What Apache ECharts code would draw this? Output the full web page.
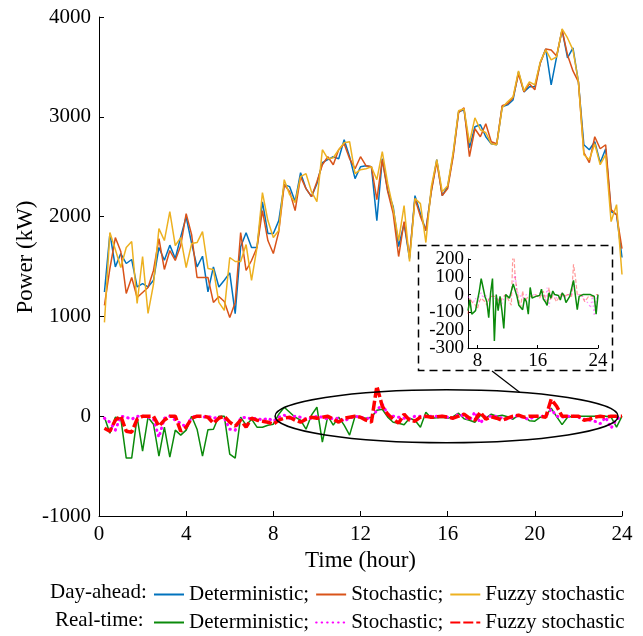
<!DOCTYPE html>
<html>
<head>
<meta charset="utf-8">
<script src="https://cdn.jsdelivr.net/npm/echarts@6/dist/echarts.min.js"></script>
<style>
html,body{margin:0;padding:0;background:#fff;}
#c{width:643px;height:636px;}
</style>
</head>
<body>
<div id="c"></div>
<script>
// ---- data ----
const hours = [0.25,0.5,0.75,1,1.25,1.5,1.75,2,2.25,2.5,2.75,3,3.25,3.5,3.75,4,4.25,4.5,4.75,5,5.25,5.5,5.75,6,6.25,6.5,6.75,7,7.25,7.5,7.75,8,
8.25,8.5,8.75,9,9.25,9.5,9.75,10,10.25,10.5,10.75,11,11.25,11.5,11.75,12,12.25,12.5,12.75,13,13.25,13.5,13.75,14,14.25,14.5,14.75,15,15.25,15.5,15.75,16,
16.25,16.5,16.75,17,17.25,17.5,17.75,18,18.25,18.5,18.75,19,19.25,19.5,19.75,20,20.25,20.5,20.75,21,21.25,21.5,21.75,22,22.25,22.5,22.75,23,23.25,23.5,23.75,24];

const daDeterministic = [1245,1831,1496,1630,1530,1570,1295,1329,1295,1362,1691,1563,1714,1580,1797,1998,1731,1496,1603,1245,1496,1295,1362,1436,1028,1697,1838,1691,1691,2148,1831,1831,
1960,2320,2300,2150,2440,2280,2200,2330,2540,2570,2600,2580,2770,2600,2380,2500,2510,2500,1960,2580,2260,2100,1700,1930,1580,2210,2030,1860,2260,2570,2210,2300,
2620,3050,3070,2690,2900,2920,2800,2730,2720,3100,3120,3170,3450,3250,3300,3300,3540,3680,3320,3600,3870,3590,3690,3350,2720,2670,2750,2540,2680,2050,2020,1590];

const daStochastic = [1110,1480,1790,1650,1230,1390,1190,1240,1290,1460,1780,1470,1660,1560,1710,2030,1820,1390,1390,1390,1140,1200,1150,990,1140,1840,1460,1560,1690,2060,1760,1630,
1850,2320,2250,2060,2400,2280,2200,2350,2520,2600,2520,2670,2730,2580,2480,2600,2510,2500,2170,2570,2250,2030,1600,1950,1600,2180,2000,1860,2250,2550,2210,2280,
2600,3040,3090,2600,2880,2800,2930,2750,2730,3110,3130,3190,3430,3250,3330,3270,3540,3680,3670,3610,3870,3620,3460,3350,2640,2540,2800,2680,2720,2070,2020,1680];

const daFuzzy = [940,1840,1670,1490,1690,1750,1130,1600,1030,1320,1880,1760,2050,1710,1790,1490,1730,1740,1850,1480,1470,1140,1060,1590,1550,1550,1720,1360,1690,2240,1960,1790,
1860,2370,2220,2140,2400,2430,2250,2150,2670,2580,2590,2670,2740,2750,2430,2470,2480,2500,2370,2650,2330,2080,1760,2110,1550,2180,2130,1740,2300,2570,2250,2310,
2640,3060,3080,2740,2990,2870,2840,2730,2720,3090,3150,3200,3460,3260,3350,3320,3550,3670,3570,3600,3880,3790,3670,3350,2620,2570,2730,2520,2620,1950,2120,1420];

const rtDeterministic = [-10,-170,-10,-20,-420,-420,-10,-350,-10,-80,-400,-110,-410,-140,-190,-140,0,-130,-400,-135,-130,0,0,-380,-420,-10,-90,-30,-110,-110,-90,-80,
20,90,40,-10,-40,-130,10,90,-260,0,-90,-10,-90,-190,0,-10,-20,-10,60,70,-10,-60,-70,-85,-20,-40,-110,40,-20,-15,-10,-20,
-5,30,-25,-40,-60,10,-20,20,0,10,-5,-30,10,-5,-45,-50,-10,0,80,-5,-85,-10,0,0,0,0,0,0,0,-10,-110,0];

const rtStochastic = [-20,-60,-140,0,-10,-30,0,0,-10,-30,-210,-20,0,-40,-70,-110,-10,0,-10,0,-20,-10,-20,-130,-140,-20,-10,-30,-20,-40,-20,-50,
-10,10,-20,0,-10,-30,-20,0,-10,-30,-20,-20,-50,-20,0,-10,-20,-20,60,120,20,0,-10,-20,-30,0,0,0,0,0,0,-10,
-20,20,0,-40,40,-70,0,0,0,-20,-30,-10,10,-20,-30,0,0,0,70,0,-10,0,0,-10,-30,-40,-50,-75,-10,-120,-30,0];

const rtFuzzy = [-120,-150,-40,0,-150,-160,-30,0,0,0,-100,-40,0,0,-150,-110,-20,0,0,-10,-70,-20,0,-60,-100,-40,-110,-20,-40,-50,-60,-80,
-40,-20,-10,-40,-60,-30,-10,-20,-10,0,-30,-60,-20,-10,0,-10,-40,-60,300,100,20,-30,-70,20,-40,-50,-10,0,-10,-5,0,-10,
-20,0,20,-20,-40,40,-30,-5,-20,-40,-20,0,10,-10,0,0,0,-10,170,100,0,0,0,0,-40,-30,-10,0,-10,0,0,0];

const mainXTicks = {min:0, max:24, interval:4};
const mainYTicks = {min:-1000, max:4000, interval:1000};
const insetXLabels = [8,16,24];
const insetXRange = {min:6.75, max:24};
const insetYLabels = [-300,-200,-100,0,100,200];
const insetYTicks = {min:-300, max:200, interval:100};

const legendNames = {
  daDet:'Deterministic;', daSto:'Stochastic;', daFuz:'Fuzzy stochastic',
  rtDet:'Deterministic;', rtSto:'Stochastic;', rtFuz:'Fuzzy stochastic'
};

// ---- build ----
const FONT = '"Liberation Serif","Times New Roman",serif';
const pairs = arr => hours.map((h,i)=>[h, arr[i]]);
const insetPairs = arr => hours.map((h,i)=>[h, arr[i]]).filter(p=>p[0] >= insetXRange.min);

const C = {blue:'#0072BD', orange:'#D95319', yellow:'#EDB120', green:'#0B8A0B', magenta:'#FF00FF', red:'#FF0000'};

function axisCommon(fs, margin){
  return {
    axisLine:{show:true, onZero:false, lineStyle:{color:'#000', width:1}},
    axisTick:{show:true, inside:true, length:5, lineStyle:{color:'#000'}},
    axisLabel:{color:'#000', fontFamily:FONT, fontSize:fs, margin:margin, formatter:v=>String(v),
      showMinLabel:true, showMaxLabel:true, hideOverlap:false},
    splitLine:{show:false}
  };
}

const chart = echarts.init(document.getElementById('c'), null, {renderer:'canvas'});

const mk = (name, arr, color, width, type, extra) => ({
  name, type:'line', data:pairs(arr), symbol:'none', showSymbol:false,
  lineStyle:Object.assign({color, width, type}, (extra&&extra.ls)||{}), itemStyle:{color}, animation:false, z:2
});

const baseGraphics = [
  {type:'text', left:50, top:582, style:{text:'Day-ahead:', fill:'#000', font:'21px '+FONT}},
  {type:'text', left:55, top:610, style:{text:'Real-time:', fill:'#000', font:'21px '+FONT}},
  {type:'text', x:26, y:257, rotation:Math.PI/2,
    style:{text:'Power (kW)', fill:'#000', font:'23px '+FONT, align:'center', verticalAlign:'middle'}},
  {type:'rect', shape:{x:418.5, y:245.5, width:194, height:125}, z:1,
    style:{fill:'rgba(255,255,255,0)', stroke:'#000', lineWidth:1.5, lineDash:[8,5]}}
];

const legendCommon = {padding:0, itemWidth:30, itemHeight:14, itemGap:6, selectedMode:false,
  itemStyle:{opacity:0, borderWidth:0},
  formatter:n=>legendNames[n], textStyle:{color:'#000', fontFamily:FONT, fontSize:21}};

const insetX = axisCommon(19, 4);
Object.assign(insetX, {type:'value', gridIndex:1, min:insetXRange.min, max:insetXRange.max});
insetX.axisTick = {show:true, inside:true, length:3, customValues:insetXLabels, lineStyle:{color:'#000'}};
insetX.axisLabel = Object.assign({}, insetX.axisLabel, {customValues:insetXLabels});

const insetY = axisCommon(19, 4);
Object.assign(insetY, {type:'value', gridIndex:1, min:insetYTicks.min, max:insetYTicks.max, interval:insetYTicks.interval});
insetY.axisTick = {show:true, inside:true, length:3, lineStyle:{color:'#000'}};
insetY.axisLabel = {show:false};

const option = {
  animation:false,
  backgroundColor:'#fff',
  grid:[
    {left:99, top:17, width:523, height:499, containLabel:false},
    {left:468, top:259, width:130, height:89, containLabel:false}
  ],
  xAxis:[
    Object.assign(axisCommon(21, 8), {type:'value', gridIndex:0, min:mainXTicks.min, max:mainXTicks.max, interval:mainXTicks.interval,
      name:'Time (hour)', nameLocation:'middle', nameGap:30,
      nameTextStyle:{color:'#000', fontFamily:FONT, fontSize:23}}),
    insetX
  ],
  yAxis:[
    Object.assign(axisCommon(21, 8), {type:'value', gridIndex:0, min:mainYTicks.min, max:mainYTicks.max, interval:mainYTicks.interval}),
    insetY
  ],
  legend:[
    Object.assign({data:['daDet','daSto','daFuz'], left:153, top:584}, legendCommon),
    Object.assign({data:['rtDet','rtSto','rtFuz'], left:153, top:612}, legendCommon)
  ],
  series:[
    mk('daDet', daDeterministic, C.blue, 1.5, 'solid'),
    mk('daSto', daStochastic, C.orange, 1.5, 'solid'),
    mk('daFuz', daFuzzy, C.yellow, 1.5, 'solid'),
    mk('rtDet', rtDeterministic, C.green, 1.5, 'solid'),
    mk('rtSto', rtStochastic, C.magenta, 3, [0.5,5], {ls:{cap:'round'}}),
    mk('rtFuz', rtFuzzy, C.red, 3.5, [10,3]),
    {name:'inDet', type:'line', xAxisIndex:1, yAxisIndex:1, data:insetPairs(rtDeterministic), symbol:'none', clip:true,
      lineStyle:{color:C.green, width:1.5}, z:6},
    {name:'inSto', type:'line', xAxisIndex:1, yAxisIndex:1, data:insetPairs(rtStochastic), symbol:'none', clip:true,
      lineStyle:{color:C.magenta, width:1.2, type:[1.5,2.5], opacity:0.45}, z:5},
    {name:'inFuz', type:'line', xAxisIndex:1, yAxisIndex:1, data:insetPairs(rtFuzzy), symbol:'none', clip:true,
      lineStyle:{color:C.red, width:1.2, type:[4,2], opacity:0.4}, z:5}
  ],
  graphic: baseGraphics
};
chart.setOption(option);

// inset y tick labels placed through the inset axis scale
const insetLabelGraphics = insetYLabels.map(v => {
  const p = chart.convertToPixel({xAxisIndex:1, yAxisIndex:1}, [insetXRange.min, v]);
  return {type:'text', x:p[0]-4, y:p[1], z:10,
    style:{text:String(v), fill:'#000', font:'19px '+FONT, align:'right', verticalAlign:'middle'}};
});

// ellipse annotation in data coordinates of the main grid
const eCtr = chart.convertToPixel({gridIndex:0}, [15.95, 0]);
const eRgt = chart.convertToPixel({gridIndex:0}, [23.82, 0]);
const eTop = chart.convertToPixel({gridIndex:0}, [15.95, 265]);
const eRx = eRgt[0]-eCtr[0], eRy = eCtr[1]-eTop[1];
const eAng = -Math.PI*0.36;
const ex = eCtr[0] + eRx*Math.cos(eAng), ey = eCtr[1] + eRy*Math.sin(eAng);
chart.setOption({graphic: baseGraphics.concat(insetLabelGraphics, [
  {type:'ellipse', shape:{cx:eCtr[0], cy:eCtr[1], rx:eRx, ry:eRy}, z:10, style:{fill:'none', stroke:'#000', lineWidth:1.5}},
  {type:'line', shape:{x1:ex, y1:ey, x2:492, y2:371}, z:10, style:{stroke:'#000', lineWidth:1.2}}
])}, {replaceMerge:['graphic']});
</script>
</body>
</html>
